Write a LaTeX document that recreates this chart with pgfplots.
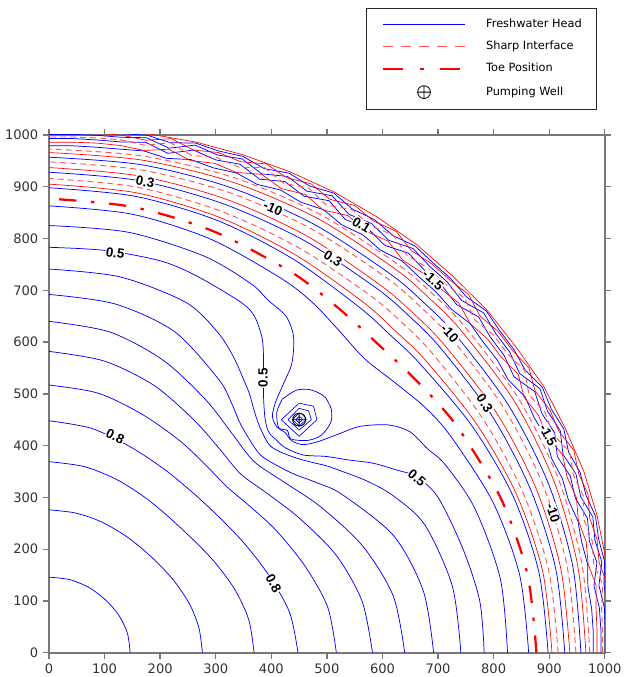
\documentclass[border=0pt]{standalone}
\usepackage{pgfplots}
\pgfplotsset{compat=1.18}
\usepackage{fontspec}
\setmainfont{DejaVu Sans}
\newfontfamily\lblfont{Liberation Sans}

\definecolor{headblue}{RGB}{0,0,255}
\definecolor{ifred}{RGB}{255,0,0}
\definecolor{ifpink}{RGB}{255,85,85}
\definecolor{axgray}{RGB}{120,120,120}

\pgfplotsset{
  headp/.style={headblue, line width=0.55pt, smooth, data cs=polar, forget plot},
  headc/.style={headblue, line width=0.55pt, smooth, forget plot},
  headj/.style={headblue, line width=0.55pt, sharp plot, data cs=polar, forget plot},
  heads/.style={headblue, line width=0.5pt, sharp plot, forget plot},
  ifs/.style={ifred, line width=0.5pt, smooth, data cs=polar, forget plot},
  ifd/.style={ifpink, line width=0.7pt, dash pattern=on 4.5pt off 3pt, smooth, data cs=polar, forget plot},
  ifsj/.style={ifred, line width=0.5pt, sharp plot, data cs=polar, forget plot},
  ifdj/.style={ifpink, line width=0.7pt, dash pattern=on 4.5pt off 3pt, sharp plot, data cs=polar, forget plot},
  toe/.style={ifred, line width=1.7pt, dash pattern=on 13pt off 11pt on 2.5pt off 11pt, smooth, data cs=polar, forget plot},
}
\tikzset{lbl/.style={font=\lblfont\bfseries\fontsize{10}{11}\selectfont, fill=white, inner sep=0.5pt, text=black}}

\begin{document}
\begin{tikzpicture}
\begin{axis}[
  scale only axis, width=416.8pt, height=388.3pt,
  xmin=0, xmax=1000, ymin=0, ymax=1000,
  xtick={0,100,...,1000}, ytick={0,100,...,1000},
  xtick pos=both, ytick pos=both,
  tick align=outside, major tick length=4.5pt,
  every tick/.style={axgray, line width=1pt},
  axis line style={axgray, line width=1.2pt},
  ticklabel style={font=\fontsize{9.8}{11}\selectfont, text=black!80},
  /pgf/number format/assume math mode=true,
  /pgf/number format/1000 sep={},
  legend cell align=left,
  legend style={
    name=leg,
    at={(0.9856,1.0482)}, anchor=south east,
    draw=none, fill=white,
    font=\fontsize{8.5}{10}\selectfont,
    inner xsep=11pt, inner ysep=8.1pt,
    row sep=8.45pt,
    nodes={inner sep=0pt, text height=6.3pt, text depth=1.8pt},
    /tikz/every odd column/.append style={column sep=15pt},
  },
]

% ---------------- freshwater head contours ----------------
% 0.95
\addplot[headp] coordinates {(0,146) (15,146) (30,145) (45,144) (60,145) (75,146) (90,146)};
% 0.90
\addplot[headp] coordinates {(0,276) (10,274) (20,270) (30,265) (38,262) (45,261) (52,262) (60,265) (70,270) (80,274) (90,276)};
% 0.85
\addplot[headp] coordinates {(0,369) (10,365) (20,356) (30,346) (38,340) (45,338) (52,340) (60,346) (70,356) (80,365) (90,369)};
% 0.80
\addplot[headp] coordinates {(0,448) (10,440) (20,424) (30,411) (38,404) (45,402) (52,404) (60,411) (70,424) (80,440) (90,448)};
% 0.75
\addplot[headp] coordinates {(0,517) (10,509) (20,490) (30,472) (38,459) (45,453) (52,459) (60,472) (70,490) (80,509) (90,517)};
% 0.70
\addplot[headp] coordinates {(0,582) (10,572) (20,550) (30,520) (38,499) (45,488) (52,499) (60,520) (70,550) (80,572) (90,582)};
% 0.65
\addplot[headp] coordinates {(0,640) (10,629) (20,601) (30,564) (38,536) (45,522) (52,536) (60,564) (70,601) (80,629) (90,640)};
% 0.60
\addplot[headp] coordinates {(0,692) (10,684) (20,660) (30,610) (34,585) (38,560) (42,545) (45,539) (48,545) (52,560) (56,585) (60,610) (70,660) (80,684) (90,692)};
% 0.55
\addplot[headp] coordinates {(0,741) (10,737) (20,720) (26,690) (30,662) (34,630) (36,615) (38,598) (41,578) (45,564) (49,578) (52,598) (54,615) (56,630) (60,662) (64,690) (70,720) (80,737) (90,741)};
% 0.50 (bent round the well)
\addplot[headc] coordinates {(0,783) (100,777) (200,757) (265,728) (345,677) (370,649) (384,604) (386,552) (386,495) (389,450) (396,425) (410,410) (425,396) (457,382) (499,379) (541,372) (583,366) (625,353) (661,340) (700,300) (745,200) (775,100) (783,0)};
% 0.45 (keyhole)
\addplot[headc] coordinates {(0,825) (143,812) (279,766) (363,713) (394,681) (427,649) (440,610) (437,559) (422,520) (407,482) (402,456) (410,436) (425,425) (436,410) (456,402) (482,407) (520,422) (559,437) (610,440) (649,427) (681,394) (713,363) (766,279) (812,143) (825,0)};
% 0.40 closed loop round the well
\addplot[headc] coordinates {(420,490) (445,507) (470,508) (492,498) (498,492) (508,470) (507,445) (490,420) (465,410) (435,413) (429,429) (413,435) (410,465) (420,490)};
% drawdown cone at the well
\addplot[heads] coordinates {(418,450) (450,482) (476,476) (482,450) (450,418) (418,450)};
\addplot[heads] coordinates {(430,450) (450,472) (467,467) (472,450) (450,430) (430,450)};
\addplot[heads] coordinates {(438,450) (450,463) (459,459) (463,450) (450,438) (438,450)};
\addplot[heads] coordinates {(444,450) (450,456) (454,454) (456,450) (450,444) (444,450)};
% 0.40 outer arc
\addplot[headp] coordinates {(0,863) (10,860) (20,850) (30,835) (35,826) (40,812) (45,803) (50,812) (55,826) (60,835) (70,850) (80,860) (90,863)};
% 0.35
\addplot[headp] coordinates {(0,898) (10,895) (20,888) (30,878) (40,870) (45,868) (50,870) (60,878) (70,888) (80,895) (90,898)};
% 0.30
\addplot[headp] coordinates {(0,928) (10,926) (20,922) (30,919) (40,918) (45,918) (50,918) (60,919) (70,922) (80,926) (90,928)};
% 0.25
\addplot[headp] coordinates {(0,957) (10,957) (20,956) (30,955) (40,955) (45,955) (50,955) (60,955) (70,956) (80,957) (90,957)};
% 0.20
\addplot[headj] coordinates {(0,979) (2.5,980) (5,980) (7.5,978) (10,984) (12.5,982) (15,985) (17.5,980) (20,983) (22.5,979) (25,986) (27.5,984) (30,989) (32.5,980) (35,985) (37.5,985) (40,989) (42.5,982) (45,985) (47.5,985) (50,988) (52.5,980) (55,985) (57.5,980) (60,988) (62.5,981) (65,986) (67.5,979) (70,986) (72.5,982) (75,986) (77.5,978) (80,984) (82.5,981) (85,980) (87.5,980) (90,979)};
% 0.15
\addplot[headj] coordinates {(0,993) (2.5,994) (5,994) (7.5,989) (10,1001) (12.5,996) (15,1003) (17.5,993) (20,998) (22.5,990) (25,1004) (27.5,1000) (30,1009) (32.5,992) (35,1000) (37.5,1001) (40,1009) (42.5,995) (45,1001) (47.5,1001) (50,1007) (52.5,992) (55,1000) (57.5,992) (60,1008) (62.5,994) (65,1004) (67.5,990) (70,1004) (72.5,998) (75,1005) (77.5,988) (80,1001) (82.5,995) (85,994) (87.5,994) (90,993)};
% 0.10
\addplot[headj] coordinates {(0,1001) (2.5,1002) (5,1003) (7.5,998) (10,1010) (12.5,1006) (15,1013) (17.5,1003) (20,1009) (22.5,1001) (25,1015) (27.5,1011) (30,1020) (32.5,1004) (35,1012) (37.5,1013) (40,1021) (42.5,1007) (45,1013) (47.5,1013) (50,1019) (52.5,1004) (55,1012) (57.5,1004) (60,1019) (62.5,1005) (65,1015) (67.5,1001) (70,1015) (72.5,1008) (75,1015) (77.5,998) (80,1010) (82.5,1004) (85,1003) (87.5,1002) (90,1001)};
% 0.05
\addplot[headj] coordinates {(0,1007) (2.5,1008) (5,1010) (7.5,1007) (10,1015) (12.5,1013) (15,1018) (17.5,1013) (20,1017) (22.5,1012) (25,1022) (27.5,1019) (30,1025) (32.5,1016) (35,1021) (37.5,1022) (40,1027) (42.5,1018) (45,1022) (47.5,1022) (50,1025) (52.5,1016) (55,1021) (57.5,1016) (60,1025) (62.5,1016) (65,1022) (67.5,1012) (70,1020) (72.5,1016) (75,1019) (77.5,1009) (80,1015) (82.5,1011) (85,1010) (87.5,1008) (90,1007)};

% ---------------- sharp interface contours ----------------
\addplot[ifs] coordinates {(0,905) (10,902) (20,895) (30,887) (40,882) (45,880) (50,882) (60,887) (70,895) (80,902) (90,905)};
\addplot[ifd] coordinates {(0,916) (10,913) (20,907) (30,902) (40,900) (45,900) (50,900) (60,902) (70,907) (80,913) (90,916)};
\addplot[ifs] coordinates {(0,937) (10,935) (20,932) (30,929) (40,927) (45,927) (50,927) (60,929) (70,932) (80,935) (90,937)};
\addplot[ifd] coordinates {(0,948) (10,947) (20,946) (30,945) (40,945) (45,945) (50,945) (60,945) (70,946) (80,947) (90,948)};
\addplot[ifs] coordinates {(0,966) (10,966) (20,967) (30,968) (40,968) (45,968) (50,968) (60,968) (70,967) (80,966) (90,966)};
\addplot[ifd] coordinates {(0,973) (10,974) (20,976) (30,977) (40,978) (45,978) (50,978) (60,977) (70,976) (80,974) (90,973)};
\addplot[ifsj] coordinates {(0,986) (2.5,987) (5,988) (7.5,993) (10,985) (12.5,990) (15,986) (17.5,995) (20,992) (22.5,1000) (25,989) (27.5,993) (30,987) (32.5,1001) (35,994) (37.5,995) (40,989) (42.5,1000) (45,995) (47.5,995) (50,990) (52.5,1002) (55,994) (57.5,1001) (60,987) (62.5,998) (65,989) (67.5,1000) (70,987) (72.5,991) (75,984) (77.5,996) (80,985) (82.5,988) (85,988) (87.5,987) (90,986)};
\addplot[ifdj] coordinates {(0,996) (2.5,997) (5,998) (7.5,1005) (10,995) (12.5,1001) (15,996) (17.5,1008) (20,1004) (22.5,1014) (25,1000) (27.5,1006) (30,997) (32.5,1015) (35,1007) (37.5,1008) (40,1000) (42.5,1014) (45,1008) (47.5,1008) (50,1002) (52.5,1017) (55,1007) (57.5,1015) (60,998) (62.5,1012) (65,1000) (67.5,1014) (70,998) (72.5,1003) (75,994) (77.5,1009) (80,995) (82.5,999) (85,998) (87.5,997) (90,996)};
\addplot[ifsj] coordinates {(0,1004) (2.5,1005) (5,1007) (7.5,1013) (10,1005) (12.5,1010) (15,1007) (17.5,1017) (20,1014) (22.5,1022) (25,1012) (27.5,1016) (30,1010) (32.5,1024) (35,1018) (37.5,1019) (40,1012) (42.5,1024) (45,1019) (47.5,1019) (50,1014) (52.5,1026) (55,1018) (57.5,1024) (60,1011) (62.5,1021) (65,1012) (67.5,1022) (70,1009) (72.5,1013) (75,1005) (77.5,1017) (80,1005) (82.5,1008) (85,1007) (87.5,1005) (90,1004)};
\addplot[ifsj] coordinates {(0,1011) (5,1015) (10,1018) (15,1021) (20,1024) (25,1025) (30,1028) (35,1027) (40,1029) (45,1028) (50,1029) (55,1028) (60,1027) (65,1025) (70,1023) (75,1021) (80,1018) (85,1015) (90,1011)};

% ---------------- toe of the interface ----------------
\addplot[toe] coordinates {(0,877) (10,874) (20,866) (30,855) (35,849) (40,843) (45,840) (50,843) (55,849) (60,855) (70,866) (80,874) (90,877)};

% ---------------- pumping well ----------------
\addplot[only marks, mark=oplus, mark size=4.8pt, mark options={black, line width=0.7pt}, forget plot] coordinates {(450,450)};

% ---------------- contour labels ----------------
\node[lbl, rotate=-11] at (axis cs:173,909) {0.3};
\node[lbl, rotate=-9]  at (axis cs:119,772) {0.5};
\node[lbl, rotate=-26] at (axis cs:119,418) {0.8};
\node[lbl, rotate=-61] at (axis cs:404,134) {0.8};
\node[lbl, rotate=90]  at (axis cs:385,531) {0.5};
\node[lbl, rotate=-40] at (axis cs:662,337) {0.5};
\node[lbl, rotate=-32] at (axis cs:511,762) {0.3};
\node[lbl, rotate=-57] at (axis cs:784,482) {0.3};
\node[lbl, rotate=-24] at (axis cs:403,858) {-10};
\node[lbl, rotate=-47] at (axis cs:721,617) {-10};
\node[lbl, rotate=-72] at (axis cs:907,269) {-10};
\node[lbl, rotate=-32] at (axis cs:562,826) {0.1};
\node[lbl, rotate=-42] at (axis cs:691,720) {-1.5};
\node[lbl, rotate=-63] at (axis cs:898,420) {-1.5};

% ---------------- legend ----------------
\addlegendimage{legend image code/.code={\draw[headblue, line width=0.6pt] (0pt,0pt) -- (61.5pt,0pt);}}
\addlegendentry{Freshwater Head}
\addlegendimage{legend image code/.code={\draw[ifpink, line width=0.7pt, dash pattern=on 7.5pt off 6pt] (0pt,0pt) -- (61.5pt,0pt);}}
\addlegendentry{Sharp Interface}
\addlegendimage{legend image code/.code={\draw[ifred, line width=1.7pt, dash pattern=on 15pt off 13pt on 2.5pt off 12pt] (0pt,0pt) -- (61.5pt,0pt);}}
\addlegendentry{Toe Position}
\addlegendimage{legend image code/.code={\path[draw=none] (0pt,0pt) -- (61.5pt,0pt); \draw[black, line width=0.6pt] (30.75pt,0pt) circle[radius=4.8pt] (25.95pt,0pt) -- (35.55pt,0pt) (30.75pt,-4.8pt) -- (30.75pt,4.8pt);}}
\addlegendentry{Pumping Well}
\end{axis}
\draw[black!85, line width=0.75pt] (leg.south west) rectangle (leg.north east);
\pgfresetboundingbox
\path (-36.75pt,-18.2pt) rectangle (431.25pt,489.5pt);
\end{tikzpicture}
\end{document}
